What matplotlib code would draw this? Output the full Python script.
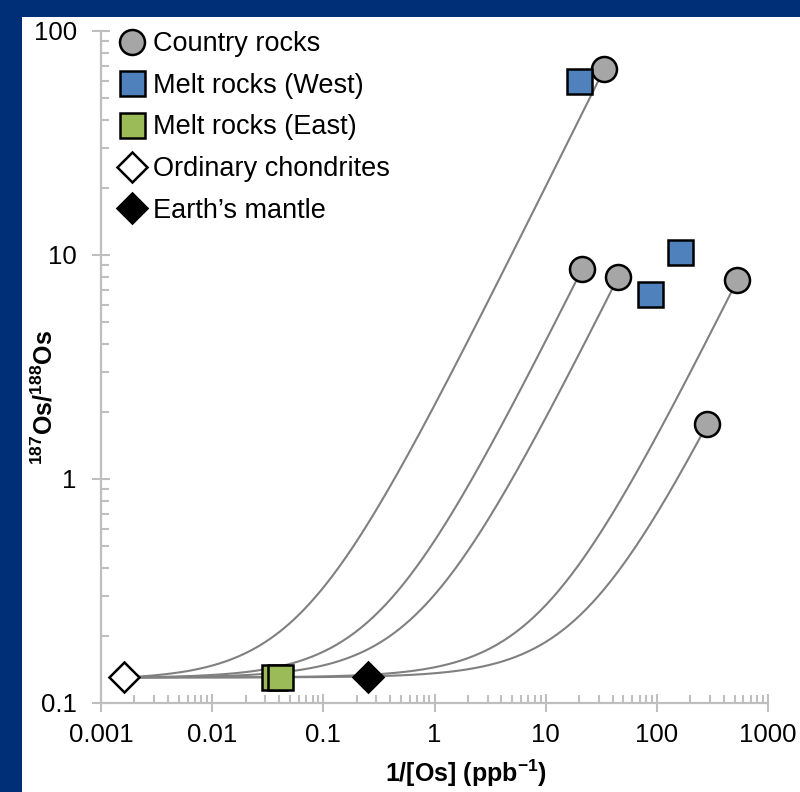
import numpy as np
import matplotlib as mpl
import matplotlib.pyplot as plt
from matplotlib.patches import Rectangle
from matplotlib.ticker import LogLocator, NullFormatter

mpl.rcParams['font.family'] = ['Liberation Sans', 'DejaVu Sans']
mpl.rcParams['mathtext.fontset'] = 'custom'
mpl.rcParams['mathtext.rm'] = 'Liberation Sans'
mpl.rcParams['mathtext.bf'] = 'Liberation Sans:bold'
mpl.rcParams['mathtext.it'] = 'Liberation Sans:italic'

#==============================================================================
# Data: x = 1/[Os] (ppb^-1), y = 187Os/188Os
chondrite_x = [0.0016]
chondrite_y = [0.13]
mantle_x = [0.25]
mantle_y = [0.13]
east_x = [0.036, 0.041]
east_y = [0.13, 0.13]
west_x = [20.1, 160.0, 86.0]
west_y = [60.0, 10.3, 6.7]
country_x = [33.6, 21.3, 45.0, 531.0, 285.0]
country_y = [67.6, 8.66, 7.98, 7.73, 1.76]

xticks = [0.001, 0.01, 0.1, 1, 10, 100, 1000]
xticklabels = ['0.001', '0.01', '0.1', '1', '10', '100', '1000']
yticks = [0.1, 1, 10, 100]
yticklabels = ['0.1', '1', '10', '100']
#==============================================================================

navy = '#002F78'
axis_gray = '#BFBFBF'

fig = plt.figure(figsize=(8, 7.92), dpi=100, facecolor=navy)
fig.patches.append(Rectangle((22/800., 0), 778/800., 775/792., transform=fig.transFigure,
                             facecolor='white', edgecolor='none', zorder=-10))
ax = fig.add_axes([0.12625, 0.1124, 0.83375, 0.8485])
ax.set_facecolor('none')

# mixing lines (straight in linear space) from chondrite to each country rock
x0, y0 = chondrite_x[0], chondrite_y[0]
for x1, y1 in zip(country_x, country_y):
    xx = np.logspace(np.log10(x0), np.log10(x1), 300)
    yy = y0 + (y1 - y0) * (xx - x0) / (x1 - x0)
    ax.plot(xx, yy, color='#808080', lw=1.5, zorder=2)

ax.plot(country_x, country_y, ls='none', marker='o', ms=18, mfc='#A6A6A6', mec='black',
        mew=1.8, zorder=4, label='Country rocks')
ax.plot(west_x, west_y, ls='none', marker='s', ms=18, mfc='#4F81BD', mec='black',
        mew=1.8, zorder=4, label='Melt rocks (West)')
ax.plot(east_x, east_y, ls='none', marker='s', ms=18, mfc='#9BBB59', mec='black',
        mew=1.8, zorder=4, label='Melt rocks (East)')
ax.plot(chondrite_x, chondrite_y, ls='none', marker='D', ms=15, mfc='white', mec='black',
        mew=1.8, zorder=4, label='Ordinary chondrites')
ax.plot(mantle_x, mantle_y, ls='none', marker='D', ms=15, mfc='black', mec='black',
        mew=1.8, zorder=4, label=u'Earth\u2019s mantle')

ax.set_xscale('log')
ax.set_yscale('log')
ax.set_xlim(0.001, 1000)
ax.set_ylim(0.1, 100)

ax.set_xticks(xticks)
ax.set_xticklabels(xticklabels)
ax.set_yticks(yticks)
ax.set_yticklabels(yticklabels)
for axis in [ax.xaxis, ax.yaxis]:
    axis.set_minor_locator(LogLocator(base=10, subs=np.arange(2, 10), numticks=20))
    axis.set_minor_formatter(NullFormatter())

for s in ['top', 'right']:
    ax.spines[s].set_visible(False)
for s in ['left', 'bottom']:
    ax.spines[s].set_color(axis_gray)
    ax.spines[s].set_linewidth(1.6)

ax.tick_params(which='major', direction='inout', length=13, width=1.5, color=axis_gray,
               labelsize=18.5, labelcolor='black')
ax.tick_params(axis='x', which='major', pad=8)
ax.tick_params(axis='y', which='major', pad=11)
ax.tick_params(which='minor', direction='in', length=6, width=1.5, color=axis_gray)

ax.set_xlabel(r'$\mathbf{1/[Os]\ (ppb^{-1})}$', fontsize=18)
ax.xaxis.set_label_coords(0.547, -0.082)
ax.xaxis.label.set_va('top')
ax.set_ylabel(r'$\mathbf{^{187}Os/^{188}Os}$', fontsize=18)
ax.yaxis.set_label_coords(-0.0645, 0.455)

ax.legend(loc='upper left', bbox_to_anchor=(118/800., 1 - 31/792.), bbox_transform=fig.transFigure,
          frameon=False, borderpad=0, borderaxespad=0, handlelength=1.0, handletextpad=0.3,
          labelspacing=0.58, fontsize=19.5, numpoints=1)

fig.savefig('out.png', dpi=100, facecolor=fig.get_facecolor())
